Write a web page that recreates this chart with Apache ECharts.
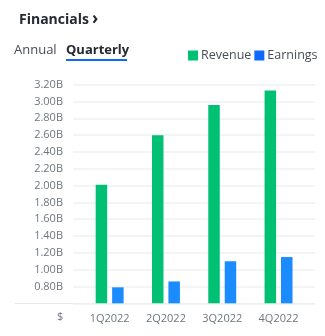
<!DOCTYPE html>
<html>
<head>
<meta charset="utf-8">
<script src="https://cdn.jsdelivr.net/npm/echarts@6/dist/echarts.min.js"></script>
<style>
  html, body { margin: 0; padding: 0; background: #fff; }
  #chart { width: 325px; height: 336px; }
</style>
</head>
<body>
<div id="chart"></div>
<script>
// Quarterly financials, values in billions of dollars
const quarters = ['1Q2022', '2Q2022', '3Q2022', '4Q2022'];
const revenue = [2.01, 2.60, 2.96, 3.13];
const earnings = [0.79, 0.86, 1.10, 1.15];
const yMin = 0.6;
const yMax = 3.2;
const yStep = 0.2;

const FONT = '"Open Sans", "Noto Sans", sans-serif';
const chart = echarts.init(document.getElementById('chart'), null, { renderer: 'canvas' });

chart.setOption({
  animation: false,
  textStyle: { fontFamily: FONT },
  title: {
    text: 'Financials',
    left: 14, top: 8,
    textStyle: { fontSize: 14, fontWeight: 'bold', color: '#232a31', fontFamily: FONT }
  },
  legend: {
    left: 183, top: 44, width: 142,
    orient: 'horizontal',
    itemWidth: 10, itemHeight: 10, itemGap: 3,
    icon: 'rect',
    textStyle: { fontSize: 12.5, color: '#464e56', padding: [0, 0, 0, -2] },
    data: [
      { name: 'Revenue', itemStyle: { color: '#00c073' } },
      { name: 'Earnings', itemStyle: { color: '#0f69ff' } }
    ]
  },
  graphic: [
    { type: 'text', left: 92, top: 11,
      style: { text: '›', font: 'bold 17px ' + FONT, fill: '#232a31' } },
    { type: 'text', left: 14, top: 44,
      style: { text: 'Annual', font: '13px ' + FONT, fill: '#464e56' } },
    { type: 'text', left: 66, top: 44,
      style: { text: 'Quarterly', font: 'bold 13px ' + FONT, fill: '#232a31' } },
    { type: 'rect', shape: { x: 66, y: 59, width: 61, height: 2 },
      style: { fill: '#0f69ff' } },
    // baseline under the bars
    { type: 'line', shape: { x1: 15, y1: 303.5, x2: 315, y2: 303.5 },
      style: { stroke: '#e6e8ea', lineWidth: 1 } },
    { type: 'text', left: 57, top: 311,
      style: { text: '$', font: '11px ' + FONT, fill: '#6e7780' } }
  ],
  grid: [
    { left: 73, right: 10, top: 84.7, bottom: 32.7 },
    { left: 81.5, right: 18.3, top: 84.7, bottom: 32.7 }
  ],
  xAxis: [
    { type: 'category', gridIndex: 0, data: quarters, show: false },
    { type: 'category', gridIndex: 1, data: quarters,
      axisLine: { show: false }, axisTick: { show: false },
      axisLabel: { color: '#6e7780', fontSize: 11, margin: 10 } }
  ],
  yAxis: [
    { type: 'value', gridIndex: 0, min: yMin, max: yMax, interval: yStep,
      axisLine: { show: false }, axisTick: { show: false },
      axisLabel: { color: '#6e7780', fontSize: 11, margin: 10, showMinLabel: false,
        formatter: v => v.toFixed(2) + 'B' },
      splitLine: { lineStyle: { color: '#eef0f2', width: 1.5 } } },
    { type: 'value', gridIndex: 1, min: yMin, max: yMax, interval: yStep, show: false,
      splitLine: { show: false } }
  ],
  series: [
    { name: 'Revenue', type: 'bar', xAxisIndex: 1, yAxisIndex: 1,
      data: revenue, barWidth: 11.5, barGap: '43%',
      itemStyle: { color: '#00c073' } },
    { name: 'Earnings', type: 'bar', xAxisIndex: 1, yAxisIndex: 1,
      data: earnings, barWidth: 11.5, barGap: '43%',
      itemStyle: { color: '#1a8cff' } }
  ]
});
</script>
</body>
</html>
